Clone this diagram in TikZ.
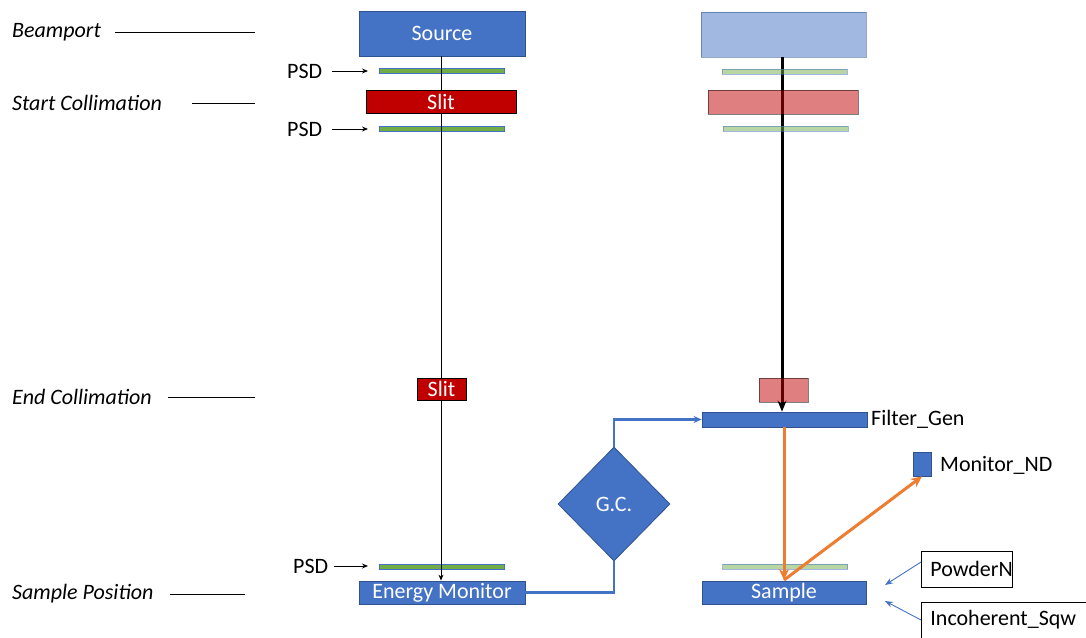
\documentclass[tikz,border=0pt]{standalone}
\usepackage{fontspec}
\setmainfont{Carlito}
\usetikzlibrary{shapes.geometric,arrows.meta}
\definecolor{mblue}{HTML}{4472C4}
\definecolor{mbord}{HTML}{2F528F}
\definecolor{mred}{HTML}{C00000}
\definecolor{mgreen}{HTML}{70AD47}
\definecolor{morange}{HTML}{ED7D31}
\tikzset{
  box/.style={draw=mbord, fill=mblue, inner sep=0pt, text=white, line width=0.8pt},
  psd/.style={draw=mblue, fill=mgreen, inner sep=0pt, minimum width=125pt, minimum height=5pt, line width=0.8pt},
  slitbox/.style={draw=black, fill=mred, inner sep=0pt, text=white, line width=0.8pt},
  ghost/.style={opacity=0.5},
  lbl/.style={inner sep=0pt, anchor=west},
  tinyarrow/.style={-{Stealth[length=6pt,width=5pt]}, line width=0.9pt},
  bluearrow/.style={-{Stealth[length=8pt,width=7pt]}, draw=mblue, line width=2.5pt},
  orangearrow/.style={-{Stealth[length=11pt,width=10pt]}, draw=morange, line width=3pt},
  thinblue/.style={-{Stealth[length=8pt,width=6pt]}, draw=mblue, line width=0.9pt},
  labelbox/.style={draw=black, fill=white, line width=0.8pt, inner sep=0pt, minimum height=36pt, anchor=west}
}
\begin{document}
\begin{tikzpicture}[x=1pt,y=-1pt,font=\fontsize{22}{25}\selectfont]
\useasboundingbox (0,0) rectangle (1086,637);

% side labels
\node[lbl] (bp) at (12,32) {\itshape Beamport};
\coordinate (bpa) at (115,32);
\coordinate (bpe) at (255,32);
\draw[line width=0.8pt] (bpa) -- (bpe);
\node[lbl] (sc) at (12,103) {\itshape Start Collimation};
\coordinate (sca) at (192,103);
\coordinate (sce) at (255,103);
\draw[line width=0.8pt] (sca) -- (sce);
\node[lbl] (ec) at (12,397) {\itshape End Collimation};
\coordinate (eca) at (168,397);
\coordinate (ece) at (255,397);
\draw[line width=0.8pt] (eca) -- (ece);
\node[lbl] (sp) at (12,594) {\itshape Sample Position};
\coordinate (spa) at (170,594);
\coordinate (spe) at (245,594);
\draw[line width=0.8pt] (spa) -- (spe);

% left column
\node[box, minimum width=166pt, minimum height=45pt] (src) at (442,33.5) {Source};
\node[box, minimum width=166pt, minimum height=23pt] (em) at (442,592.5) {Energy Monitor};
\node[psd] (p1) at (441.5,70.5) {};
\node[psd] (p2) at (441.5,128.5) {};
\node[psd] (p3) at (441.5,566.5) {};
\draw[tinyarrow] (src.south -| 441,0) -- (em.north -| 441,0);
\node[slitbox, minimum width=150pt, minimum height=23pt] (s1) at (441,101.5) {Slit};
\node[slitbox, minimum width=49pt, minimum height=22pt] (s2) at (441.5,389) {Slit};

% PSD labels
\node[lbl] (l1) at (287,71) {PSD};
\node[lbl] (l2) at (287,129) {PSD};
\node[lbl] (l3) at (293,566) {PSD};
\coordinate (a1) at (368,71);
\coordinate (a2) at (368,129);
\coordinate (a3) at (368,566);
\draw[tinyarrow] (l1.east) ++(10,0) -- (a1);
\draw[tinyarrow] (l2.east) ++(10,0) -- (a2);
\draw[tinyarrow] (l3.east) ++(6,0) -- (a3);

% right column
\node[box, ghost, minimum width=165pt, minimum height=45pt] (gsrc) at (783.5,34.5) {};
\node[box, minimum width=165pt, minimum height=15pt] (flt) at (784.5,419.5) {};
\node[lbl] (fltl) at (871,419) {Filter\_Gen};
\draw[-{Stealth[length=11pt,width=9pt]}, line width=3pt] (gsrc.south -| 782,0) -- (flt.north -| 782,0);
\node[psd, ghost] (gp1) at (784.5,71.5) {};
\node[slitbox, ghost, minimum width=150pt, minimum height=24pt] (gs1) at (783,102) {};
\node[psd, ghost] (gp2) at (785.5,128.5) {};
\node[slitbox, ghost, minimum width=49pt, minimum height=24pt] (gs2) at (783.5,390) {};
\node[psd, ghost] (gp3) at (785,566.5) {};
\node[box, minimum width=164pt, minimum height=23pt] (smp) at (784,592.5) {Sample};
\node[box, minimum width=18pt, minimum height=24pt] (mnd) at (922,464) {};
\node[lbl] (mndl) at (940,465) {Monitor\_ND};

% G.C.
\node[diamond, draw=mbord, fill=mblue, text=white, minimum width=112pt, minimum height=114pt, inner sep=0pt, line width=0.8pt] (gc) at (614,504) {G.C.};
\draw[draw=mblue, line width=2.5pt] (em.east) -| (gc.south);
\draw[bluearrow] (gc.north) |- (flt.west);

% orange
\coordinate (hit) at (784,580);
\draw[orangearrow] (flt.south -| 784,0) -- (hit);
\draw[orangearrow] (hit) -- (mnd.south);

% sample kernels
\node[labelbox, minimum width=90pt] (pn) at (921,569) {\hspace*{9pt}PowderN};
\node[labelbox, minimum width=180pt, align=left] (ic) at (921,620) {\hspace*{9pt}Incoherent\_Sqw\hspace*{60pt}};
\coordinate (pnt) at (885,585);
\coordinate (ict) at (885,601);
\draw[thinblue] (pn.west |- 0,562) -- (pnt);
\draw[thinblue] (ic.west |- 0,620) -- (ict);
\end{tikzpicture}
\end{document}
